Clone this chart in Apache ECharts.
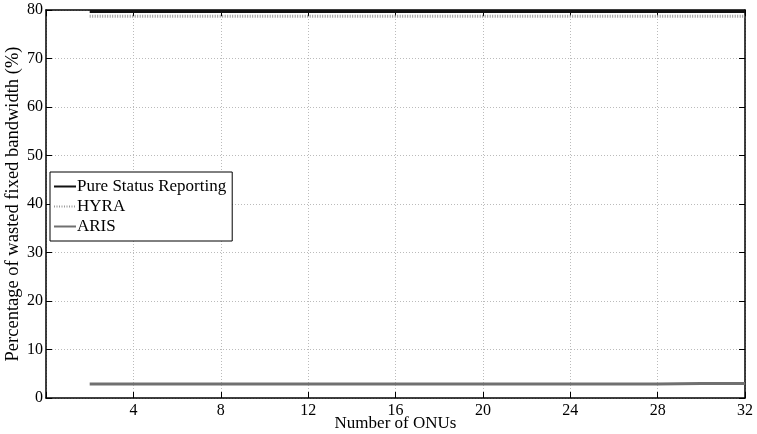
<!DOCTYPE html>
<html><head><meta charset="utf-8">
<script src="https://cdn.jsdelivr.net/npm/echarts@6/dist/echarts.min.js"></script>
<style>html,body{margin:0;padding:0;background:#fff}#c{width:757px;height:434px}</style>
</head><body><div id="c"></div>
<script>
const onus = [2,4,6,8,10,12,14,16,18,20,22,24,26,28,30,32];
const pureStatus = [79.7,79.7,79.7,79.7,79.7,79.7,79.7,79.7,79.7,79.7,79.7,79.7,79.7,79.7,79.7,79.7];
const hyra = [78.7,78.7,78.7,78.7,78.7,78.7,78.7,78.7,78.7,78.7,78.7,78.7,78.7,78.7,78.7,78.7];
const aris = [2.9,2.9,2.9,2.9,2.9,2.9,2.9,2.9,2.9,2.9,2.9,2.9,2.9,2.9,3.0,3.0];
const xTicks = [4,8,12,16,20,24,28,32];
const yTicks = [0,10,20,30,40,50,60,70,80];

const font = '"Liberation Serif", "Times New Roman", serif';
const pair = (ys) => onus.map((x,i)=>[x, ys[i]]);
const chart = echarts.init(document.getElementById('c'));
const axCommon = {
  axisLine:{show:true, onZero:false, lineStyle:{color:'#000', width:1.5}},
  axisTick:{show:true, inside:true, length:6, lineStyle:{color:'#000', width:1}},
};
chart.setOption({
  animation:false,
  textStyle:{fontFamily:font},
  grid:{left:46, right:12, top:10, bottom:36, containLabel:false, outerBoundsMode:'none'},
  legend:{
    orient:'vertical', left:50, top:172, itemWidth:22, itemHeight:14, itemGap:3,
    padding:[6,6,6,3], backgroundColor:'#fff', borderColor:'#000', borderWidth:1,
    itemStyle:{opacity:0},
    textStyle:{fontFamily:font, fontSize:17, color:'#000', padding:[0,0,0,-4]},
    data:['Pure Status Reporting','HYRA','ARIS']
  },
  xAxis:[{
    type:'value', min:0, max:32, interval:4, position:'bottom',
    ...axCommon,
    axisLabel:{color:'#000', fontSize:16, fontFamily:font, margin:5,
      formatter:v=> xTicks.includes(v)? String(v) : ''},
    splitLine:{show:true, lineStyle:{color:'#bbb', type:[1,2], width:1}},
    name:'Number of ONUs', nameLocation:'middle', nameGap:17, nameMoveOverlap:false,
    nameTextStyle:{color:'#000', fontSize:17, fontFamily:font}
  },{
    type:'value', min:0, max:32, interval:4, position:'top',
    ...axCommon, axisLabel:{show:false}, splitLine:{show:false}
  }],
  yAxis:[{
    type:'value', min:0, max:80, interval:10, position:'left',
    ...axCommon,
    axisLabel:{color:'#000', fontSize:16, fontFamily:font, margin:3,
      formatter:v=> yTicks.includes(v)? String(v) : ''},
    splitLine:{show:true, lineStyle:{color:'#bbb', type:[1,2], width:1}},
    name:'Percentage of wasted fixed bandwidth (%)', nameLocation:'middle', nameGap:23, nameMoveOverlap:false,
    nameTextStyle:{color:'#000', fontSize:18.5, fontFamily:font}
  },{
    type:'value', min:0, max:80, interval:10, position:'right',
    ...axCommon, axisLabel:{show:false}, splitLine:{show:false}
  }],
  series:[
    {name:'Pure Status Reporting', type:'line', data:pair(pureStatus), symbol:'none',
      lineStyle:{color:'#111', width:3}, itemStyle:{color:'#111'}},
    {name:'HYRA', type:'line', data:pair(hyra), symbol:'none',
      lineStyle:{color:'#999', width:3, type:[1,1.5]}, itemStyle:{color:'#999'}},
    {name:'ARIS', type:'line', data:pair(aris), symbol:'none',
      lineStyle:{color:'#707070', width:3}, itemStyle:{color:'#707070'}}
  ]
});
</script></body></html>
